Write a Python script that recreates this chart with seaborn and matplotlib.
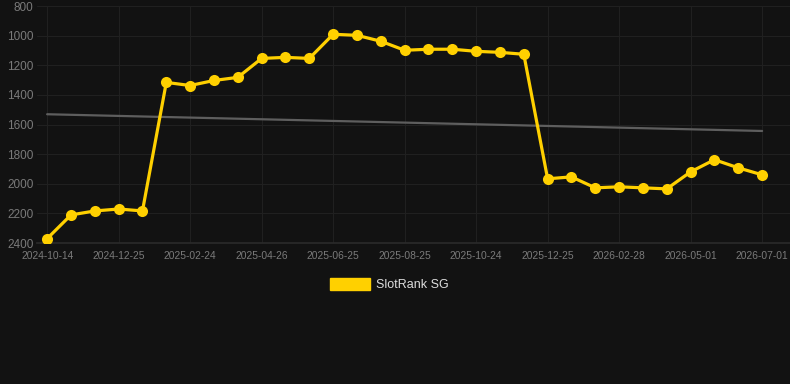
import numpy as np
import pandas as pd
import matplotlib
matplotlib.use("Agg")
import matplotlib.pyplot as plt
from matplotlib.patches import Patch
import seaborn as sns

# rank values, one point per step
ranks = [2370, 2210, 2183, 2170, 2183, 1315, 1336, 1302, 1281, 1153,
         1146, 1153, 990, 997, 1037, 1098, 1091, 1091, 1105, 1112,
         1125, 1966, 1953, 2027, 2020, 2027, 2034, 1919, 1837, 1892,
         1939]
tick_labels = ["2024-10-14", "2024-12-25", "2025-02-24", "2025-04-26",
               "2025-06-25", "2025-08-25", "2025-10-24", "2025-12-25",
               "2026-02-28", "2026-05-01", "2026-07-01"]
trend_ends = [1530, 1643]

bg = "#121212"
gold = "#FFD000"

sns.set_theme(style="dark")
plt.rcParams['font.family'] = ['Liberation Sans', 'DejaVu Sans']

df = pd.DataFrame({"step": np.arange(len(ranks)), "rank": ranks})

fig = plt.figure(figsize=(7.9, 3.84), dpi=100, facecolor=bg)
ax = fig.add_axes([0.047, 0.367, 0.953, 0.617])
ax.set_facecolor(bg)

# trend line first so it sits under the series
ax.plot([0, len(ranks) - 1], trend_ends, color="#5e5e5e", lw=1.6, zorder=2)

sns.lineplot(data=df, x="step", y="rank", ax=ax, color=gold, lw=2.3,
             marker="o", markersize=8, markeredgewidth=0, zorder=3)

ax.set_ylim(2400, 800)
ax.set_xlim(-0.42, 31.17)
ax.set_yticks(np.arange(800, 2401, 200))
ax.set_xticks(np.arange(0, len(ranks), 3))
ax.set_xticklabels(tick_labels)
ax.grid(True, color="#202020", lw=0.8)
ax.tick_params(axis="x", colors="#7a7a7a", labelsize=7.4, length=0, pad=6)
ax.tick_params(axis="y", colors="#7a7a7a", labelsize=8.5, length=0, pad=2.5)
ax.set_xlabel("")
ax.set_ylabel("")
for side in ["top", "right", "left"]:
    ax.spines[side].set_visible(False)
ax.spines["bottom"].set_color("#2a2a2a")

handles = [Patch(facecolor=gold, edgecolor=gold, label="SlotRank SG")]
leg = fig.legend(handles=handles, loc="center", bbox_to_anchor=(0.493, 0.26),
                 frameon=False, fontsize=9, handlelength=3.2, handleheight=1.1,
                 handletextpad=0.5)
for t in leg.get_texts():
    t.set_color("#dddddd")

fig.savefig("out.png", dpi=100, facecolor=bg)
